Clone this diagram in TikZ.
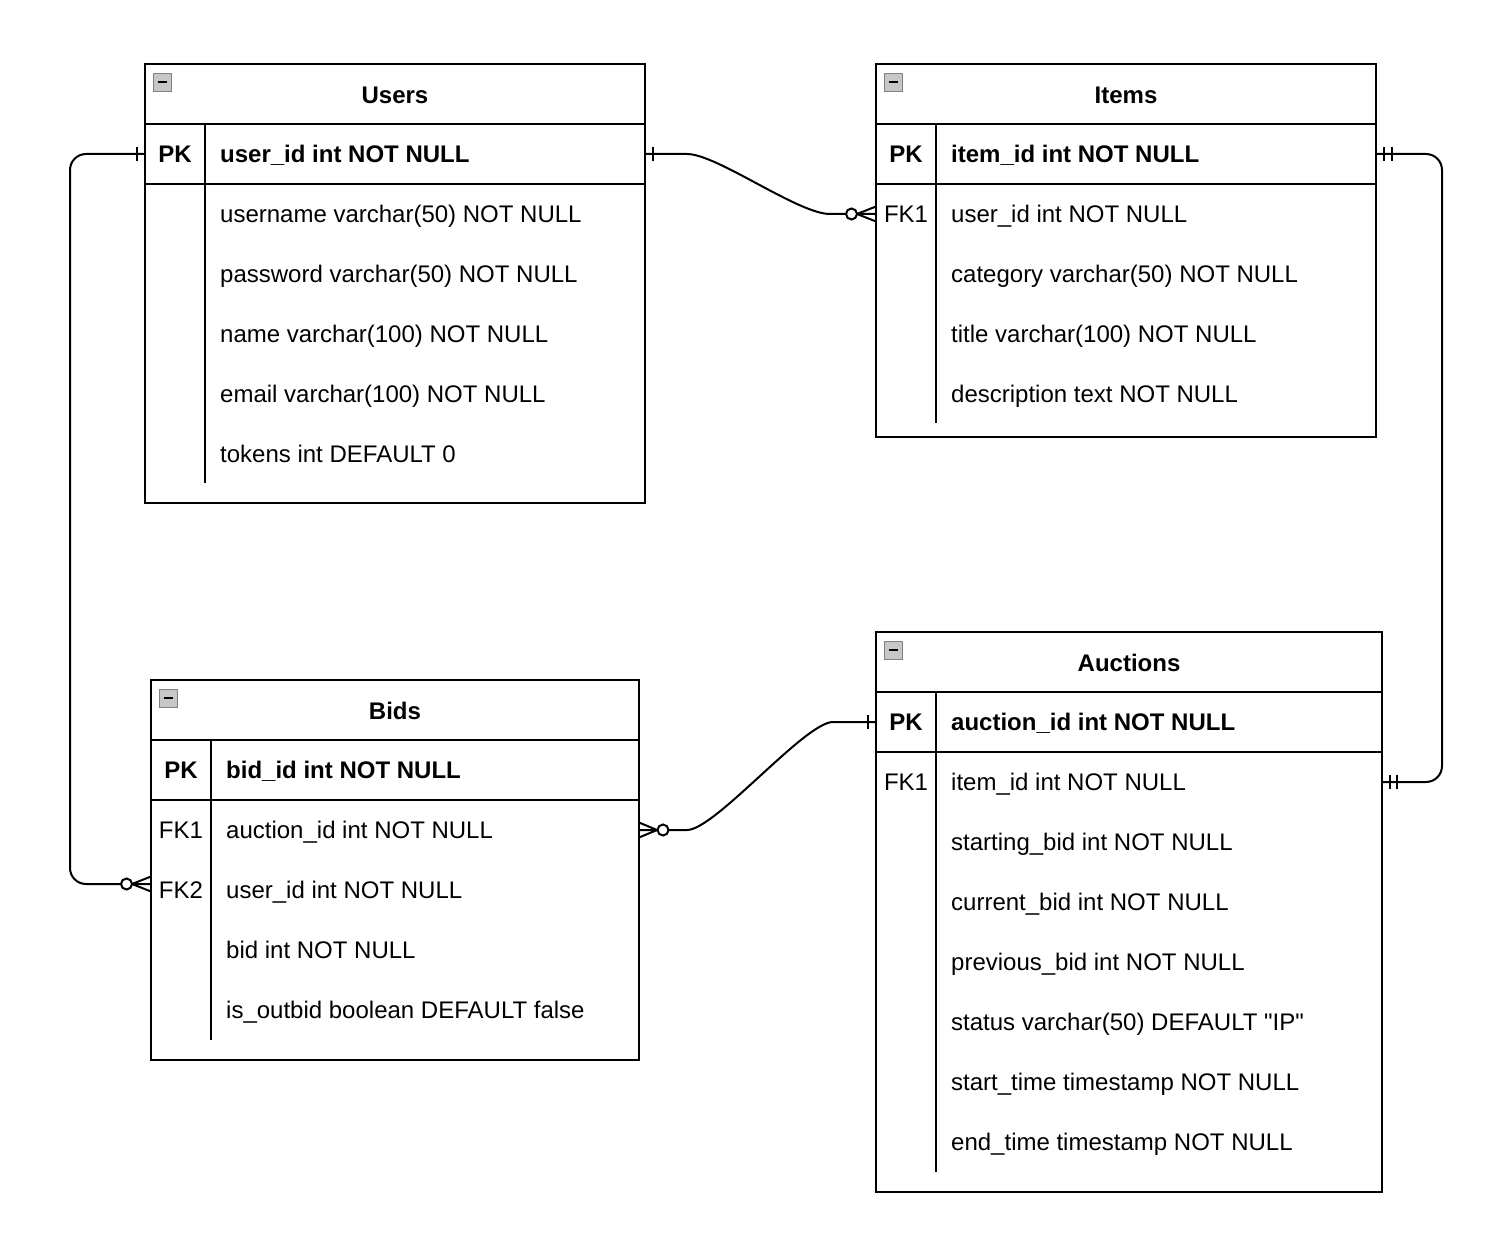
\documentclass[tikz,border=0pt]{standalone}
\usepackage{fontspec}
\setmainfont{Liberation Sans}
\newfontfamily\qfont{Liberation Sans}
\begin{document}
\begin{tikzpicture}[x=1pt,y=-1pt,
  tbl/.style={draw, line width=2pt, inner sep=0pt, outer sep=0pt, anchor=north west},
  rowbox/.style={inner sep=0pt, outer sep=0pt, anchor=north west, minimum height=60pt},
  sep/.style={line width=2pt},
  fld/.style={anchor=base west, inner sep=0pt, font=\fontsize{24}{28}\selectfont},
  keyb/.style={anchor=base, inner sep=0pt, font=\fontsize{24}{28}\selectfont\bfseries},
  keyn/.style={anchor=base, inner sep=0pt, font=\fontsize{24}{28}\selectfont},
  hdr/.style={anchor=base, inner sep=0pt, font=\fontsize{24}{28}\selectfont\bfseries},
  icon/.style={draw=black!50, fill=black!22, line width=1.4pt, minimum size=18pt, inner sep=0pt, anchor=north west},
  conn/.style={line width=2pt},
  tickln/.style={line width=2pt},
  ocirc/.style={circle, draw, fill=white, line width=2pt, minimum size=11pt, inner sep=0pt}
]
\useasboundingbox (0,0) rectangle (1508,1252);
\fill[white] (0,0) rectangle (1508,1252);

% ---------- Users ----------
\node[tbl, minimum width=500pt, minimum height=439pt] (users) at (145,64) {};
\node[rowbox, minimum width=500pt] (users-pk) at (145,124) {};
\draw[sep] (145,124) -- (645,124);
\draw[sep] (145,184) -- (645,184);
\draw[sep] (205,124) -- (205,483);
\node[icon] (users-ic) at (153,73) {};
\draw[line width=2pt] (157.5,82) -- (166.5,82);
\node[hdr] (users-h) at (395,103.6) {Users};
\node[keyb] (users-k0) at (175,162.6) {PK};
\node[fld,font=\fontsize{24}{28}\selectfont\bfseries] (users-f0) at (220,162.6) {user\_id int NOT NULL};
\node[fld] (users-f1) at (220,222.6) {username varchar(50) NOT NULL};
\node[fld] (users-f2) at (220,282.6) {password varchar(50) NOT NULL};
\node[fld] (users-f3) at (220,342.6) {name varchar(100) NOT NULL};
\node[fld] (users-f4) at (220,402.6) {email varchar(100) NOT NULL};
\node[fld] (users-f5) at (220,462.6) {tokens int DEFAULT 0};

% ---------- Items ----------
\node[tbl, minimum width=500pt, minimum height=373pt] (items) at (876,64) {};
\node[rowbox, minimum width=500pt] (items-pk) at (876,124) {};
\node[rowbox, minimum width=500pt] (items-fk1) at (876,184) {};
\draw[sep] (876,124) -- (1376,124);
\draw[sep] (876,184) -- (1376,184);
\draw[sep] (936,124) -- (936,423);
\node[icon] (items-ic) at (884,73) {};
\draw[line width=2pt] (888.5,82) -- (897.5,82);
\node[hdr] (items-h) at (1126,103.6) {Items};
\node[keyb] (items-k0) at (906,162.6) {PK};
\node[keyn] (items-k1) at (906,222.6) {FK1};
\node[fld,font=\fontsize{24}{28}\selectfont\bfseries] (items-f0) at (951,162.6) {item\_id int NOT NULL};
\node[fld] (items-f1) at (951,222.6) {user\_id int NOT NULL};
\node[fld] (items-f2) at (951,282.6) {category varchar(50) NOT NULL};
\node[fld] (items-f3) at (951,342.6) {title varchar(100) NOT NULL};
\node[fld] (items-f4) at (951,402.6) {description text NOT NULL};

% ---------- Auctions ----------
\node[tbl, minimum width=506pt, minimum height=560pt] (auc) at (876,632) {};
\node[rowbox, minimum width=506pt] (auc-pk) at (876,692) {};
\node[rowbox, minimum width=506pt] (auc-fk1) at (876,752) {};
\draw[sep] (876,692) -- (1382,692);
\draw[sep] (876,752) -- (1382,752);
\draw[sep] (936,692) -- (936,1172);
\node[icon] (auc-ic) at (884,641) {};
\draw[line width=2pt] (888.5,650) -- (897.5,650);
\node[hdr] (auc-h) at (1129,671.6) {Auctions};
\node[keyb] (auc-k0) at (906,730.6) {PK};
\node[keyn] (auc-k1) at (906,790.6) {FK1};
\node[fld,font=\fontsize{24}{28}\selectfont\bfseries] (auc-f0) at (951,730.6) {auction\_id int NOT NULL};
\node[fld] (auc-f1) at (951,790.6) {item\_id int NOT NULL};
\node[fld] (auc-f2) at (951,850.6) {starting\_bid int NOT NULL};
\node[fld] (auc-f3) at (951,910.6) {current\_bid int NOT NULL};
\node[fld] (auc-f4) at (951,970.6) {previous\_bid int NOT NULL};
\node[fld,font=\fontsize{24}{28}\selectfont\qfont] (auc-f5) at (951,1030.6) {status varchar(50) DEFAULT "IP"};
\node[fld] (auc-f6) at (951,1090.6) {start\_time timestamp NOT NULL};
\node[fld] (auc-f7) at (951,1150.6) {end\_time timestamp NOT NULL};

% ---------- Bids ----------
\node[tbl, minimum width=488pt, minimum height=380pt] (bids) at (151,680) {};
\node[rowbox, minimum width=488pt] (bids-pk) at (151,740) {};
\node[rowbox, minimum width=488pt] (bids-fk1) at (151,800) {};
\node[rowbox, minimum width=488pt, minimum height=48pt] (bids-fk2) at (151,860) {};
\draw[sep] (151,740) -- (639,740);
\draw[sep] (151,800) -- (639,800);
\draw[sep] (211,740) -- (211,1040);
\node[icon] (bids-ic) at (159,689) {};
\draw[line width=2pt] (163.5,698) -- (172.5,698);
\node[hdr] (bids-h) at (395,719.6) {Bids};
\node[keyb] (bids-k0) at (181,778.6) {PK};
\node[keyn] (bids-k1) at (181,838.6) {FK1};
\node[keyn] (bids-k2) at (181,898.6) {FK2};
\node[fld,font=\fontsize{24}{28}\selectfont\bfseries] (bids-f0) at (226,778.6) {bid\_id int NOT NULL};
\node[fld] (bids-f1) at (226,838.6) {auction\_id int NOT NULL};
\node[fld] (bids-f2) at (226,898.6) {user\_id int NOT NULL};
\node[fld] (bids-f3) at (226,958.6) {bid int NOT NULL};
\node[fld] (bids-f4) at (226,1018.6) {is\_outbid boolean DEFAULT false};

% ---------- Connectors ----------
% Users.user_id -> Items.user_id (one to zero-or-many)
\draw[conn] (users-pk.east) -- ++(42,0) .. controls ++(30,0) and (798,214) .. (830,214) -- (items-fk1.west);
\draw[tickln] ([xshift=8pt,yshift=7pt]users-pk.east) -- ++(0,14);
\draw[tickln] ([xshift=-19pt]items-fk1.west) -- ([yshift=7.5pt]items-fk1.west);
\draw[tickln] ([xshift=-19pt]items-fk1.west) -- ([yshift=-7.5pt]items-fk1.west);
\node[ocirc] (c1) at ([xshift=-24.5pt]items-fk1.west) {};

% Items.item_id -> Auctions.item_id (one and only one)
\draw[conn, rounded corners=16pt] (items-pk.east) -- ++(66,0) |- (auc-fk1.east);
\draw[tickln] ([xshift=8pt,yshift=7pt]items-pk.east) -- ++(0,14);
\draw[tickln] ([xshift=16pt,yshift=7pt]items-pk.east) -- ++(0,14);
\draw[tickln] ([xshift=8pt,yshift=7pt]auc-fk1.east) -- ++(0,14);
\draw[tickln] ([xshift=15pt,yshift=7pt]auc-fk1.east) -- ++(0,14);

% Auctions.auction_id -> Bids.auction_id (one to zero-or-many)
\draw[conn] (auc-pk.west) -- ++(-43,0) .. controls ++(-28,0) and (715,830) .. (687,830) -- (bids-fk1.east);
\draw[tickln] ([xshift=-8pt,yshift=7pt]auc-pk.west) -- ++(0,14);
\draw[tickln] ([xshift=18pt]bids-fk1.east) -- ([yshift=7.5pt]bids-fk1.east);
\draw[tickln] ([xshift=18pt]bids-fk1.east) -- ([yshift=-7.5pt]bids-fk1.east);
\node[ocirc] (c3) at ([xshift=24pt]bids-fk1.east) {};

% Users.user_id -> Bids.user_id (one to zero-or-many)
\draw[conn, rounded corners=16pt] (users-pk.west) -- ++(-75,0) |- (bids-fk2.west);
\draw[tickln] ([xshift=-8pt,yshift=7pt]users-pk.west) -- ++(0,14);
\draw[tickln] ([xshift=-19pt]bids-fk2.west) -- ([yshift=7.5pt]bids-fk2.west);
\draw[tickln] ([xshift=-19pt]bids-fk2.west) -- ([yshift=-7.5pt]bids-fk2.west);
\node[ocirc] (c4) at ([xshift=-24.5pt]bids-fk2.west) {};
\end{tikzpicture}
\end{document}
